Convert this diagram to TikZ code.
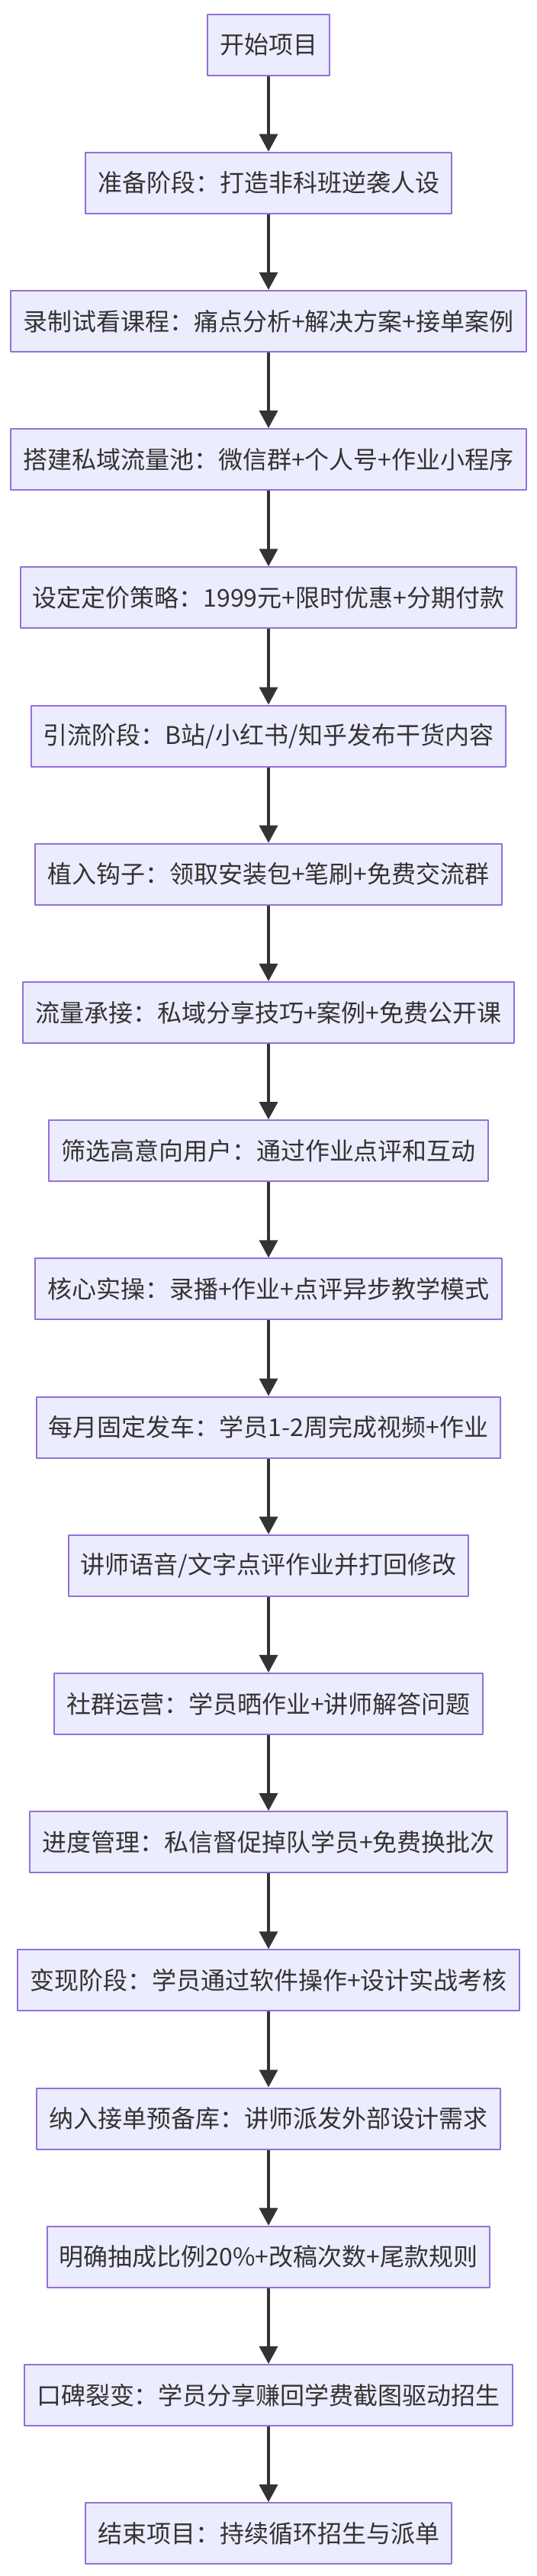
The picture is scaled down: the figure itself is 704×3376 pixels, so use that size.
\documentclass[tikz,border=0pt]{standalone}
\usepackage{fontspec}
\setmainfont{Noto Sans CJK SC}
\usetikzlibrary{arrows.meta}
\definecolor{boxfill}{HTML}{ECECFF}
\definecolor{boxline}{HTML}{9370DB}
\definecolor{edgeline}{HTML}{333333}
\tikzset{
  stepbox/.style={draw=boxline, fill=boxfill, line width=2pt, text=edgeline,
    minimum height=80pt, inner xsep=16pt, inner ysep=0pt,
    font=\fontsize{32}{38}\selectfont},
  flowarrow/.style={draw=edgeline, line width=3.5pt,
    -{Triangle[length=23pt,width=24pt]}}
}
\begin{document}
\begin{tikzpicture}[x=1pt, y=1pt, line join=round]
	\useasboundingbox (0,0) rectangle (704,-3376);
	% Các bước của dự án
	\node[stepbox] (s1) at (352,-58.5) {开始项目};
	\node[stepbox] (s2) at (352,-239.7) {准备阶段：打造非科班逆袭人设};
	\node[stepbox] (s3) at (352,-420.9) {录制试看课程：痛点分析+解决方案+接单案例};
	\node[stepbox] (s4) at (352,-602.1) {搭建私域流量池：微信群+个人号+作业小程序};
	\node[stepbox] (s5) at (352,-783.3) {设定定价策略：1999元+限时优惠+分期付款};
	\node[stepbox] (s6) at (352,-964.5) {引流阶段：B站/小红书/知乎发布干货内容};
	\node[stepbox] (s7) at (352,-1145.7) {植入钩子：领取安装包+笔刷+免费交流群};
	\node[stepbox] (s8) at (352,-1326.9) {流量承接：私域分享技巧+案例+免费公开课};
	\node[stepbox] (s9) at (352,-1508.1) {筛选高意向用户：通过作业点评和互动};
	\node[stepbox] (s10) at (352,-1689.3) {核心实操：录播+作业+点评异步教学模式};
	\node[stepbox] (s11) at (352,-1870.5) {每月固定发车：学员1-2周完成视频+作业};
	\node[stepbox] (s12) at (352,-2051.7) {讲师语音/文字点评作业并打回修改};
	\node[stepbox] (s13) at (352,-2232.9) {社群运营：学员晒作业+讲师解答问题};
	\node[stepbox] (s14) at (352,-2414.1) {进度管理：私信督促掉队学员+免费换批次};
	\node[stepbox] (s15) at (352,-2595.3) {变现阶段：学员通过软件操作+设计实战考核};
	\node[stepbox] (s16) at (352,-2776.5) {纳入接单预备库：讲师派发外部设计需求};
	\node[stepbox] (s17) at (352,-2957.7) {明确抽成比例20\%+改稿次数+尾款规则};
	\node[stepbox] (s18) at (352,-3138.9) {口碑裂变：学员分享赚回学费截图驱动招生};
	\node[stepbox] (s19) at (352,-3320.1) {结束项目：持续循环招生与派单};
	
	% Các mũi tên nối
	\draw[flowarrow] (s1) -- (s2);
	\draw[flowarrow] (s2) -- (s3);
	\draw[flowarrow] (s3) -- (s4);
	\draw[flowarrow] (s4) -- (s5);
	\draw[flowarrow] (s5) -- (s6);
	\draw[flowarrow] (s6) -- (s7);
	\draw[flowarrow] (s7) -- (s8);
	\draw[flowarrow] (s8) -- (s9);
	\draw[flowarrow] (s9) -- (s10);
	\draw[flowarrow] (s10) -- (s11);
	\draw[flowarrow] (s11) -- (s12);
	\draw[flowarrow] (s12) -- (s13);
	\draw[flowarrow] (s13) -- (s14);
	\draw[flowarrow] (s14) -- (s15);
	\draw[flowarrow] (s15) -- (s16);
	\draw[flowarrow] (s16) -- (s17);
	\draw[flowarrow] (s17) -- (s18);
	\draw[flowarrow] (s18) -- (s19);
\end{tikzpicture}
\end{document}
